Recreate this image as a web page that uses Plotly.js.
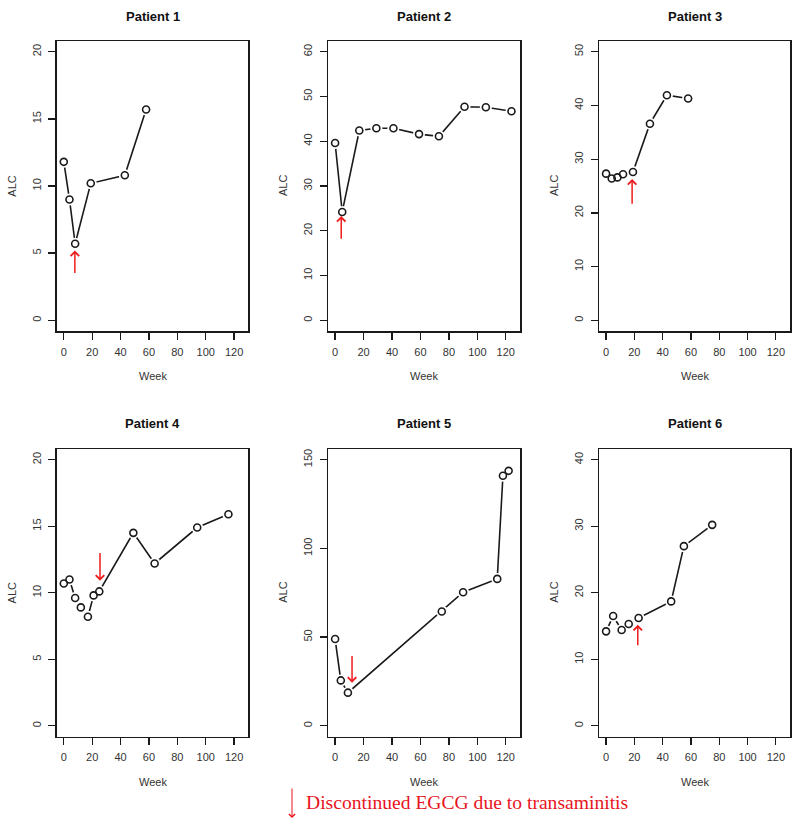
<!DOCTYPE html>
<html>
<head>
<meta charset="utf-8">
<script src="https://cdn.plot.ly/plotly-3.0.1.min.js"></script>
<style>
  html, body { margin: 0; padding: 0; background: #fff; }
  #plot { width: 800px; height: 831px; }
</style>
</head>
<body>
<div id="plot"></div>
<script>
// ALC per patient over time (weeks)
const weeks1 = [0, 4, 8, 19, 43, 58];
const alc1 = [11.8, 9.0, 5.7, 10.2, 10.8, 15.7];

const weeks2 = [0, 5, 17, 29, 41, 59, 73, 91, 106, 124];
const alc2 = [39.6, 24.2, 42.4, 42.9, 42.9, 41.6, 41.1, 47.7, 47.6, 46.7];

const weeks3 = [0, 4, 8, 12, 19, 31, 43, 58];
const alc3 = [27.3, 26.4, 26.6, 27.2, 27.6, 36.6, 41.9, 41.3];

const weeks4 = [0, 4, 8, 12, 17, 21, 25, 49, 64, 94, 116];
const alc4 = [10.7, 11.0, 9.6, 8.9, 8.2, 9.8, 10.1, 14.5, 12.2, 14.9, 15.9];

const weeks5 = [0, 4, 9, 75, 90, 114, 118, 122];
const alc5 = [48.9, 25.6, 18.7, 64.4, 75.3, 82.8, 140.9, 143.7];

const weeks6 = [0, 5, 11, 16, 23, 46, 55, 75];
const alc6 = [14.2, 16.5, 14.4, 15.3, 16.2, 18.7, 27.0, 30.2];

const patientNames = ['Patient 1', 'Patient 2', 'Patient 3', 'Patient 4', 'Patient 5', 'Patient 6'];
const yMax = [20, 60, 50, 20, 150, 40];
const yStep = [5, 10, 10, 5, 50, 10];
const xTicks = [0, 20, 40, 60, 80, 100, 120];

// EGCG discontinued: arrow position (week), head and tail (ALC)
const arrowWeek = [7.8, 4.3, 18.4, 25.5, 11.9, 22.4];
const arrowHead = [5.2, 23.3, 26.3, 10.9, 24.3, 15.2];
const arrowTail = [3.4, 17.9, 21.4, 13.1, 40.2, 11.9];

const legendText = 'Discontinued EGCG due to transaminitis';

const allWeeks = [weeks1, weeks2, weeks3, weeks4, weeks5, weeks6];
const allAlc = [alc1, alc2, alc3, alc4, alc5, alc6];

// panel boxes in pixels (800 x 831 page)
const W = 800, H = 831;
const colX = [[56.7, 248.3], [328, 520], [599, 790]];
const rowY = [[41, 331], [449, 736.5]];

const ink = '#1a1a1a';
const tickFont = { family: 'Liberation Sans, Arial, sans-serif', size: 11, color: '#333' };

let traces = [];
let annotations = [];
let layout = {
    width: W,
    height: H,
    margin: { l: 0, r: 0, t: 0, b: 0 },
    paper_bgcolor: '#fff',
    plot_bgcolor: '#fff',
    showlegend: false,
    font: tickFont
};

for (let p = 0; p < 6; p++) {
    const col = p % 3;
    const row = Math.floor(p / 3);
    const n = p === 0 ? '' : String(p + 1);
    const xa = 'x' + n, ya = 'y' + n;

    const x0 = colX[col][0], x1 = colX[col][1];
    const yTop = rowY[row][0], yBot = rowY[row][1];

    layout['xaxis' + n] = {
        domain: [x0 / W, x1 / W],
        anchor: ya,
        range: [-5, 130],
        tickvals: xTicks,
        ticks: 'outside', ticklen: 7, tickwidth: 1.3, tickcolor: ink,
        ticklabelstandoff: 3,
        showline: true, mirror: true, linecolor: ink, linewidth: 1.5,
        showgrid: false, zeroline: false,
        tickfont: tickFont,
        fixedrange: true
    };
    const ym = yMax[p];
    let yt = [];
    for (let v = 0; v <= ym; v += yStep[p]) yt.push(v);
    layout['yaxis' + n] = {
        domain: [1 - yBot / H, 1 - yTop / H],
        anchor: xa,
        range: [-0.04 * ym, 1.04 * ym],
        tickvals: yt,
        tickangle: -90,
        ticks: 'outside', ticklen: 7, tickwidth: 1.3, tickcolor: ink,
        ticklabelstandoff: 3,
        showline: true, mirror: true, linecolor: ink, linewidth: 1.5,
        showgrid: false, zeroline: false,
        tickfont: tickFont,
        fixedrange: true
    };

    // line, then white disks to make the R "type = b" gaps, then open circles
    traces.push({
        x: allWeeks[p], y: allAlc[p], xaxis: xa, yaxis: ya,
        type: 'scatter', mode: 'lines',
        line: { color: ink, width: 1.6 },
        hoverinfo: 'skip'
    });
    traces.push({
        x: allWeeks[p], y: allAlc[p], xaxis: xa, yaxis: ya,
        type: 'scatter', mode: 'markers',
        marker: { symbol: 'circle', size: 12, color: '#fff', line: { width: 0 } },
        hoverinfo: 'skip'
    });
    traces.push({
        x: allWeeks[p], y: allAlc[p], xaxis: xa, yaxis: ya,
        type: 'scatter', mode: 'markers',
        marker: { symbol: 'circle-open', size: 7, color: ink, line: { width: 1.6, color: ink } }
    });

    const cx = (x0 + x1) / 2 / W;
    // panel title
    annotations.push({
        xref: 'paper', yref: 'paper', x: cx, y: 1 - (row === 0 ? 16 : 423) / H,
        text: '<b>' + patientNames[p] + '</b>', showarrow: false,
        xanchor: 'center', yanchor: 'middle',
        font: { family: 'Liberation Sans, Arial, sans-serif', size: 13, color: '#111' }
    });
    // x axis title
    annotations.push({
        xref: 'paper', yref: 'paper', x: cx, y: 1 - (yBot + 45) / H,
        text: 'Week', showarrow: false, xanchor: 'center', yanchor: 'middle',
        font: tickFont
    });
    // y axis title
    annotations.push({
        xref: 'paper', yref: 'paper', x: (x0 - 45) / W, y: 1 - (yTop + yBot) / 2 / H,
        text: 'ALC', showarrow: false, textangle: -90, xanchor: 'center', yanchor: 'middle',
        font: tickFont
    });
    // red arrow marking EGCG discontinuation
    annotations.push({
        xref: xa, yref: ya, axref: xa, ayref: ya,
        x: arrowWeek[p], y: arrowHead[p], ax: arrowWeek[p], ay: arrowTail[p],
        text: '', showarrow: true, arrowhead: 4, arrowsize: 1.1, arrowwidth: 1.5,
        arrowcolor: '#ee1c1c', standoff: 0, startstandoff: 0
    });
}

// legend: arrow + red serif text under the middle column
annotations.push({
    xref: 'paper', yref: 'paper', x: 292 / W, y: 1 - 818 / H,
    ax: 0, ay: -31, text: '', showarrow: true,
    arrowhead: 4, arrowsize: 1.2, arrowwidth: 1, arrowcolor: '#e8141c', standoff: 0
});
annotations.push({
    xref: 'paper', yref: 'paper', x: 304 / W, y: 1 - 802 / H,
    text: legendText, showarrow: false, xanchor: 'left', yanchor: 'middle',
    font: { family: 'Liberation Serif, Times New Roman, serif', size: 19.6, color: '#e8141c' }
});

layout.annotations = annotations;

Plotly.newPlot('plot', traces, layout, { displayModeBar: false, staticPlot: true });
</script>
</body>
</html>
